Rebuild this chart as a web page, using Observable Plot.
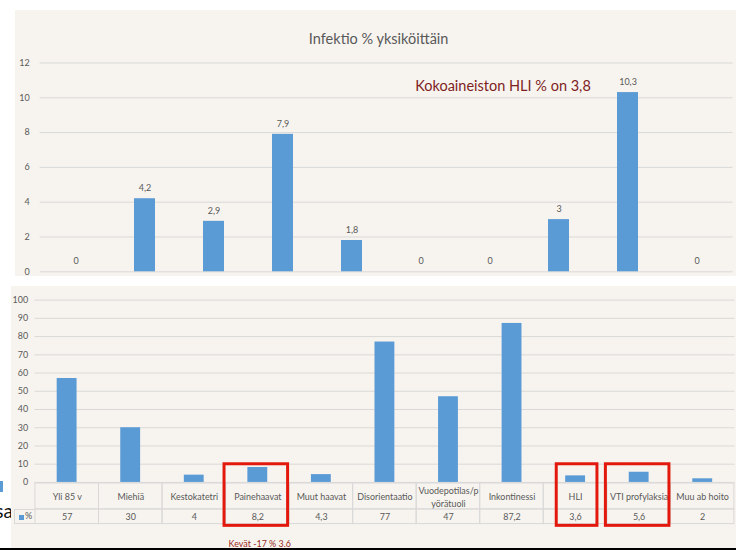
<!DOCTYPE html>
<html><head><meta charset="utf-8">
<script src="https://cdn.jsdelivr.net/npm/d3@7"></script>
<script src="https://cdn.jsdelivr.net/npm/@observablehq/plot@0.6"></script>
<style>
html,body{margin:0;padding:0;background:#fff;width:736px;height:550px;overflow:hidden;font-family:Lato,sans-serif;position:relative;}
#top{position:absolute;left:15px;top:10px;width:721px;height:266px;background:#f7f4ef;overflow:hidden;}
#bottom{position:absolute;left:11px;top:286px;width:725px;height:264px;background:#f7f4ef;overflow:hidden;}
#top svg,#bottom svg{position:absolute;left:0;overflow:visible;}
#legend{position:absolute;left:3px;top:223.3px;width:20.7px;height:14.7px;box-sizing:border-box;border:1px solid #d9d9d9;border-right:none;font-size:9px;color:#595959;line-height:12.7px;}
#legend i{position:absolute;left:4px;top:5px;width:5px;height:5px;background:#5b9bd5;}
#legend span{position:absolute;left:10px;top:0;}
#rule{position:absolute;left:0;top:548px;width:736px;height:2px;background:#000;}
#sa{position:absolute;left:-37px;width:50px;top:501px;text-align:right;font-size:19px;line-height:19px;color:#111;}
#blk{position:absolute;left:0;top:481px;width:3px;height:11px;background:#5b9bd5;}
</style></head>
<body>
<div id="sa">sa</div><div id="blk"></div>
<div id="top"></div>
<div id="bottom"><div id="legend"><i></i><span></span></div></div>
<div id="rule"></div>
<script>
// ---- data ----
const topUnits = ["Yksikkö 1","Yksikkö 2","Yksikkö 3","Yksikkö 4","Yksikkö 5","Yksikkö 6","Yksikkö 7","Yksikkö 8","Yksikkö 9","Yksikkö 10"];
const topValues = [0, 4.2, 2.9, 7.9, 1.8, 0, 0, 3, 10.3, 0];
const topTicks = [0, 2, 4, 6, 8, 10, 12];
const topTitle = "Infektio % yksiköittäin";
const topNote = "Kokoaineiston HLI % on 3,8";

const bottomCategories = ["Yli 85 v","Miehiä","Kestokatetri","Painehaavat","Muut haavat","Disorientaatio","Vuodepotilas/pyörätuoli","Inkontinessi","HLI","VTI profylaksia","Muu ab hoito"];
const bottomValues = [57, 30, 4, 8.2, 4.3, 77, 47, 87.2, 3.6, 5.6, 2];
const bottomTicks = [0, 10, 20, 30, 40, 50, 60, 70, 80, 90, 100];
const seriesName = "%";
const highlighted = ["Painehaavat", "HLI", "VTI profylaksia"];
const bottomNote = "Kevät -17 % 3.6";

// ---- helpers ----
const fmt = v => String(v).replace(".", ",");
const wrap = s => s.length > 16 ? s.slice(0, 14) + "\n" + s.slice(14) : s;
const blue = "#5b9bd5", grey = "#595959", gridC = "#d9d9d9";
const baseStyle = {background: "transparent", fontFamily: "Lato, sans-serif", overflow: "visible"};

// ---- top chart ----
const topData = topUnits.map((u, i) => ({u, v: topValues[i]}));
const topPlot = Plot.plot({
  width: 721, height: 266,
  marginTop: 52.5, marginBottom: 4.7, marginLeft: 24.65, marginRight: 3.4,
  style: baseStyle,
  x: {domain: topUnits, paddingInner: 0.7, paddingOuter: 0.35, axis: null},
  y: {domain: [0, 12]},
  marks: [
    Plot.gridY(topTicks, {stroke: gridC, strokeOpacity: 1}),
    Plot.axisY(topTicks, {tickSize: 0, tickPadding: 10.5, fontSize: 9, fill: grey, label: null}),
    Plot.barY(topData, {x: "u", y: "v", fill: blue}),
    Plot.text(topData, {x: "u", y: "v", text: d => fmt(d.v), dy: -10.5, fontSize: 9, fill: grey}),
    Plot.text([topTitle], {frameAnchor: "top", lineAnchor: "middle", dy: -23.5, dx: -8, fontSize: 14.5, fill: grey}),
    Plot.text([{u: topUnits[6], t: topNote}], {x: "u", y: () => 10.65, text: "t", dx: 13, fontSize: 14.5, fill: "#7e1e1e"})
  ]
});
document.getElementById("top").appendChild(topPlot);

// ---- bottom chart ----
const bottomData = bottomCategories.map((c, i) => ({c, v: bottomValues[i]}));
const xCommon = {width: 730, marginLeft: 23.7, marginRight: 1.5, style: baseStyle};
const bottom = document.getElementById("bottom");

const barsPlot = Plot.plot({
  ...xCommon, height: 198, marginTop: 13.7, marginBottom: 0.7,
  x: {domain: bottomCategories, paddingInner: 0.69, paddingOuter: 0.345, axis: null},
  y: {domain: [0, 100]},
  marks: [
    Plot.gridY(bottomTicks, {stroke: gridC, strokeOpacity: 1}),
    Plot.axisY(bottomTicks, {tickSize: 0, tickPadding: 7, fontSize: 9, fill: grey, label: null}),
    Plot.barY(bottomData, {x: "c", y: "v", fill: blue})
  ]
});
barsPlot.style.top = "0px";
bottom.appendChild(barsPlot);

const catRow = Plot.plot({
  ...xCommon, height: 26, marginTop: 0, marginBottom: 0,
  x: {domain: bottomCategories, padding: 0, axis: null},
  marks: [
    Plot.cell(bottomCategories, {x: d => d, fill: "none", stroke: gridC, inset: 0}),
    Plot.text(bottomCategories, {x: d => d, text: wrap, frameAnchor: "middle", fontSize: 9, lineHeight: 1.4, fill: grey})
  ]
});
catRow.style.top = "197.3px";
bottom.appendChild(catRow);

const valRow = Plot.plot({
  ...xCommon, height: 14.7, marginTop: 0, marginBottom: 0,
  x: {domain: bottomCategories, padding: 0, axis: null},
  marks: [
    Plot.cell(bottomData, {x: "c", fill: "none", stroke: gridC, inset: 0}),
    Plot.text(bottomData, {x: "c", text: d => fmt(d.v), frameAnchor: "middle", fontSize: 9, fill: grey})
  ]
});
valRow.style.top = "223.3px";
bottom.appendChild(valRow);
document.querySelector("#legend span").textContent = seriesName;
bottom.appendChild(document.getElementById("legend"));

const overlay = Plot.plot({
  ...xCommon, height: 261, marginTop: 179, marginBottom: 20,
  x: {domain: bottomCategories, padding: 0, axis: null},
  marks: [
    Plot.cell(highlighted.filter(d => d !== "HLI"), {x: d => d, fill: "none", stroke: "#e3180c", strokeWidth: 3, insetLeft: -1.5, insetRight: 1.5}),
    Plot.cell(highlighted.filter(d => d === "HLI"), {x: d => d, fill: "none", stroke: "#e3180c", strokeWidth: 3, insetLeft: 13, insetRight: 10}),
    Plot.text([{c: highlighted[0], t: bottomNote}], {x: "c", text: "t", frameAnchor: "bottom", lineAnchor: "middle", dy: 18, dx: 2, fontSize: 9, fill: "#9a2a22"})
  ]
});
overlay.style.top = "0px";
bottom.appendChild(overlay);
</script>
</body></html>
